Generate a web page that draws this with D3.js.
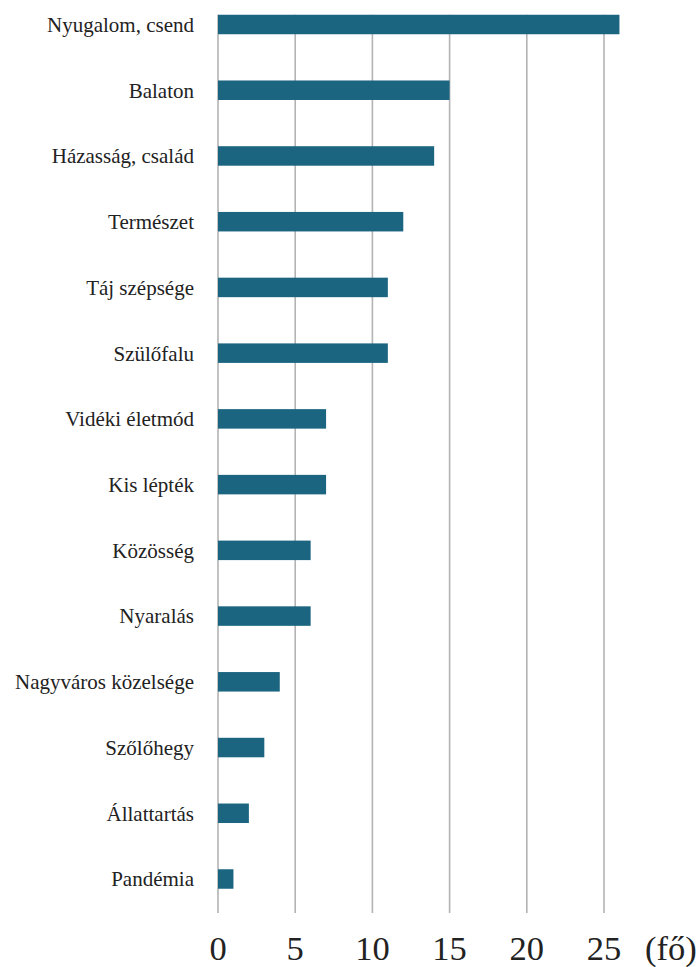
<!DOCTYPE html>
<html>
<head>
<meta charset="utf-8">
<script src="https://cdn.jsdelivr.net/npm/d3@7"></script>
<style>
  html, body { margin: 0; padding: 0; background: #fff; }
  svg { display: block; }
</style>
</head>
<body>
<svg id="chart" width="700" height="967"></svg>
<script>
const categories = [
  "Nyugalom, csend", "Balaton", "Házasság, család", "Természet", "Táj szépsége",
  "Szülőfalu", "Vidéki életmód", "Kis lépték", "Közösség", "Nyaralás",
  "Nagyváros közelsége", "Szőlőhegy", "Állattartás", "Pandémia"
];
const values = [26, 15, 14, 12, 11, 11, 7, 7, 6, 6, 4, 3, 2, 1];
const tickValues = [0, 5, 10, 15, 20, 25];
const unitLabel = "(fő)";

const svg = d3.select("#chart");
const fam = '"Liberation Serif"';

const x = d3.scaleLinear().domain([0, 25]).range([218, 604]);
const y = d3.scalePoint().domain(categories).range([24.5, 879]);
const barH = 19.5;

// gridlines
svg.append("g").selectAll("line").data(tickValues).join("line")
  .attr("x1", d => x(d)).attr("x2", d => x(d))
  .attr("y1", y(categories[0]) - barH / 2).attr("y2", 913)
  .attr("stroke", "#b3b3b3").attr("stroke-width", 1.6);

// bars
svg.append("g").selectAll("rect").data(categories).join("rect")
  .attr("x", x(0))
  .attr("y", d => y(d) - barH / 2)
  .attr("width", (d, i) => x(values[i]) - x(0))
  .attr("height", barH)
  .attr("fill", "#1b6581");

// category labels
svg.append("g").selectAll("text").data(categories).join("text")
  .attr("x", 194)
  .attr("y", d => y(d))
  .attr("dy", "0.35em")
  .attr("text-anchor", "end")
  .style("font-family", fam)
  .style("font-size", "21px")
  .attr("fill", "#222")
  .text(d => d);

// tick labels
svg.append("g").selectAll("text").data(tickValues).join("text")
  .attr("x", d => x(d))
  .attr("y", 959.5)
  .attr("text-anchor", "middle")
  .style("font-family", fam)
  .style("font-size", "34.5px")
  .attr("fill", "#222")
  .text(d => d);

svg.append("text")
  .attr("x", 645).attr("y", 959.5)
  .style("font-family", fam)
  .style("font-size", "34.5px")
  .attr("fill", "#222")
  .text(unitLabel);
</script>
</body>
</html>
